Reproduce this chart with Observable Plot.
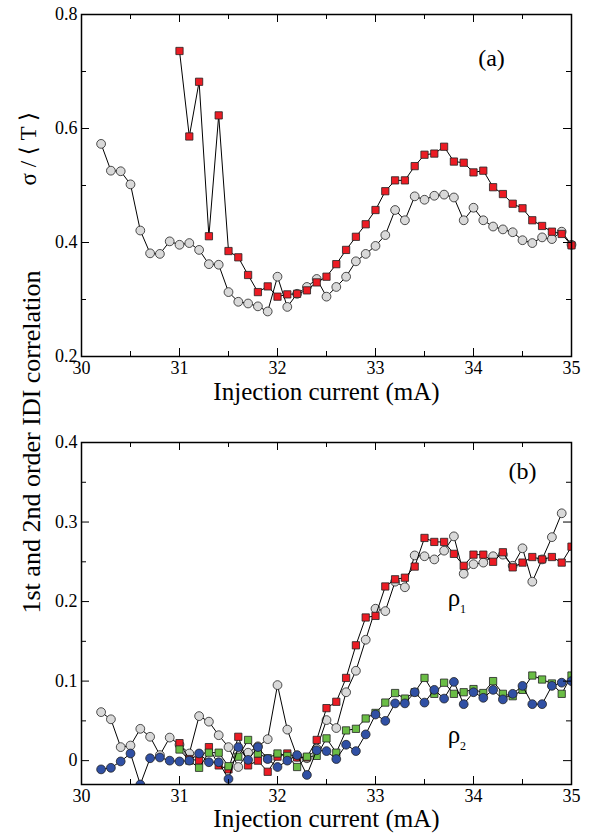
<!DOCTYPE html>
<html>
<head>
<meta charset="utf-8">
<script src="https://cdn.jsdelivr.net/npm/d3@7"></script>
<script src="https://cdn.jsdelivr.net/npm/@observablehq/plot@0.6"></script>
<style>
  html, body { margin: 0; padding: 0; background: white; }
  #chart { width: 590px; height: 834px; }
  #chart svg { display: block; }
</style>
</head>
<body>
<div id="chart"></div>
<script>
// ---------- data ----------
const xTicks = [30, 31, 32, 33, 34, 35];
const xMinorTicks = [30.5, 31.5, 32.5, 33.5, 34.5];
const yTicksA = [0.2, 0.4, 0.6, 0.8];
const yMinorA = [0.3, 0.5, 0.7];
const yTicksB = [0, 0.1, 0.2, 0.3, 0.4];
const yMinorB = [0.05, 0.15, 0.25, 0.35];

const current302to350 = [30.2,30.3,30.4,30.5,30.6,30.7,30.8,30.9,31.0,31.1,31.2,31.3,31.4,31.5,31.6,31.7,31.8,31.9,32.0,32.1,32.2,32.3,32.4,32.5,32.6,32.7,32.8,32.9,33.0,33.1,33.2,33.3,33.4,33.5,33.6,33.7,33.8,33.9,34.0,34.1,34.2,34.3,34.4,34.5,34.6,34.7,34.8,34.9,35.0];
const current310to350 = [31.0,31.1,31.2,31.3,31.4,31.5,31.6,31.7,31.8,31.9,32.0,32.1,32.2,32.3,32.4,32.5,32.6,32.7,32.8,32.9,33.0,33.1,33.2,33.3,33.4,33.5,33.6,33.7,33.8,33.9,34.0,34.1,34.2,34.3,34.4,34.5,34.6,34.7,34.8,34.9,35.0];
const current302to349 = [30.2,30.3,30.4,30.5,30.6,30.7,30.8,30.9,31.0,31.1,31.2,31.3,31.4,31.5,31.6,31.7,31.8,31.9,32.0,32.1,32.2,32.3,32.4,32.5,32.6,32.7,32.8,32.9,33.0,33.1,33.2,33.3,33.4,33.5,33.6,33.7,33.8,33.9,34.0,34.1,34.2,34.3,34.4,34.5,34.6,34.7,34.8,34.9];

// panel (a): sigma / <T>
const sigmaGray = [0.573,0.526,0.525,0.502,0.421,0.381,0.380,0.402,0.396,0.399,0.387,0.362,0.361,0.313,0.296,0.293,0.288,0.279,0.340,0.287,0.310,0.322,0.336,0.305,0.322,0.340,0.367,0.380,0.394,0.413,0.457,0.439,0.481,0.475,0.482,0.484,0.479,0.439,0.461,0.439,0.428,0.423,0.418,0.404,0.399,0.409,0.406,0.419,0.396];
const sigmaRed = [0.736,0.586,0.682,0.411,0.623,0.385,0.374,0.343,0.313,0.323,0.305,0.309,0.310,0.316,0.330,0.340,0.362,0.387,0.410,0.432,0.457,0.490,0.509,0.509,0.534,0.554,0.556,0.568,0.542,0.540,0.523,0.526,0.497,0.485,0.468,0.460,0.439,0.429,0.419,0.415,0.395];

// panel (b): IDI correlations
const rho1Gray = [0.061,0.052,0.017,0.019,0.040,0.030,0.007,0.029,0.020,0.009,0.056,0.049,0.032,0.017,-0.008,0.010,0.018,0.027,0.095,0.039,0.005,0.003,0.015,0.051,0.041,0.086,0.113,0.152,0.191,0.188,0.225,0.218,0.258,0.257,0.253,0.264,0.282,0.235,0.247,0.249,0.257,0.259,0.245,0.267,0.225,0.253,0.281,0.311];
const rho1Red = [0.022,0.002,0.000,0.017,-0.006,-0.011,0.030,-0.006,0.000,-0.014,0.005,0.009,0.004,0.004,0.026,0.066,0.074,0.104,0.145,0.180,0.182,0.219,0.228,0.230,0.244,0.280,0.275,0.275,0.260,0.245,0.259,0.259,0.250,0.262,0.243,0.249,0.256,0.253,0.256,0.249,0.269];
const rho2Green = [0.014,0.000,-0.009,0.010,0.010,-0.007,0.005,0.026,0.009,0.003,0.009,0.006,-0.008,0.005,0.006,0.028,0.010,0.038,0.040,0.053,0.060,0.073,0.085,0.078,0.086,0.104,0.084,0.098,0.084,0.086,0.090,0.085,0.100,0.084,0.081,0.089,0.107,0.102,0.097,0.084,0.107];
const rho2Blue = [-0.011,-0.009,-0.001,0.009,-0.030,0.003,0.004,0.000,-0.001,0.000,0.009,-0.002,-0.002,-0.023,0.017,0.001,0.017,0.002,-0.008,0.000,0.007,-0.018,0.013,0.012,0.002,0.020,0.012,0.033,0.058,0.050,0.072,0.072,0.086,0.073,0.089,0.078,0.099,0.071,0.086,0.079,0.089,0.077,0.084,0.094,0.071,0.071,0.094,0.098,0.100];

const rhoLabels = ["ρ", "ρ"];
const rhoSubs = ["1", "2"];
const rhoX = [33.8, 33.8];
const rhoY = [0.194, 0.022];

const xLabel = "Injection current (mA)";
const yLabelA = "σ / ⟨ T ⟩";
const yLabelB = "1st and 2nd order IDI correlation";

// ---------- styles ----------
const RED = "#ec1c24", GRAY = "#d9d9d9", GREEN = "#6abd45", BLUE = "#3050a4";
const FONT = "'Liberation Serif', 'Times New Roman', 'DejaVu Serif', serif";
const W = 590;

const toRows = (xs, ys) => xs.map((x, i) => ({x, y: ys[i]}));

function tickMarks(innerW, innerH, yMajor, yMinor) {
  const M = 8, m = 5;
  return [
    Plot.ruleX(xTicks, {x: d => d, insetTop: innerH - M, stroke: "black"}),
    Plot.ruleX(xTicks, {x: d => d, insetBottom: innerH - M, stroke: "black"}),
    Plot.ruleX(xMinorTicks, {x: d => d, insetTop: innerH - m, stroke: "black"}),
    Plot.ruleX(xMinorTicks, {x: d => d, insetBottom: innerH - m, stroke: "black"}),
    Plot.ruleY(yMajor, {y: d => d, insetRight: innerW - M, stroke: "black"}),
    Plot.ruleY(yMajor, {y: d => d, insetLeft: innerW - M, stroke: "black"}),
    Plot.ruleY(yMinor, {y: d => d, insetRight: innerW - m, stroke: "black"}),
    Plot.ruleY(yMinor, {y: d => d, insetLeft: innerW - m, stroke: "black"})
  ];
}

function series(rows, symbol, fill, clip) {
  return [
    Plot.line(rows, {x: "x", y: "y", stroke: "black", strokeWidth: 1, clip}),
    Plot.dot(rows, {x: "x", y: "y", symbol, r: symbol === "square" ? 4.1 : 4.4, fill, stroke: "#222", strokeWidth: 0.8, clip})
  ];
}

// ---------- panel (a) ----------
{
  const height = 410, mt = 14, mb = 54, ml = 81, mr = 19;
  const innerW = W - ml - mr, innerH = height - mt - mb;
  const plotA = Plot.plot({
    width: W, height,
    marginTop: mt, marginBottom: mb, marginLeft: ml, marginRight: mr,
    style: {fontFamily: FONT, fontSize: "18px", color: "black", background: "white", overflow: "visible"},
    x: {domain: [30, 35]},
    y: {domain: [0.2, 0.8]},
    marks: [
      ...series(toRows(current302to350, sigmaGray), "circle", GRAY, false),
      ...series(toRows(current310to350, sigmaRed), "square", RED, false),
      ...tickMarks(innerW, innerH, yTicksA, yMinorA),
      Plot.frame({stroke: "black", strokeWidth: 1.5}),
      Plot.axisX({ticks: xTicks, tickSize: 0, tickPadding: 5, label: null, tickFormat: d => String(d), fontSize: 18}),
      Plot.axisY({ticks: yTicksA, tickSize: 0, tickPadding: 4, label: null, tickFormat: d => String(d), fontSize: 18}),
      Plot.text([xLabel], {text: d => d, frameAnchor: "bottom", lineAnchor: "bottom", dy: 43, fontSize: 25}),
      Plot.text([yLabelA], {text: d => d, frameAnchor: "left", rotate: -90, dx: -53, fontSize: 23}),
      Plot.text(["(a)"], {text: d => d, frameAnchor: "top-right", textAnchor: "middle", lineAnchor: "middle", dx: -80, dy: 44, fontSize: 24})
    ]
  });
  document.getElementById("chart").append(plotA);
}

// ---------- panel (b) ----------
{
  const height = 424, mt = 32, mb = 50, ml = 81, mr = 19;
  const innerW = W - ml - mr, innerH = height - mt - mb;
  const plotB = Plot.plot({
    width: W, height,
    marginTop: mt, marginBottom: mb, marginLeft: ml, marginRight: mr,
    style: {fontFamily: FONT, fontSize: "18px", color: "black", background: "white", overflow: "visible"},
    x: {domain: [30, 35]},
    y: {domain: [-0.03, 0.4]},
    marks: [
      ...series(toRows(current302to349, rho1Gray), "circle", GRAY, true),
      ...series(toRows(current310to350, rho1Red), "square", RED, true),
      ...series(toRows(current310to350, rho2Green), "square", GREEN, true),
      ...series(toRows(current302to350, rho2Blue), "circle", BLUE, true),
      ...tickMarks(innerW, innerH, yTicksB, yMinorB),
      Plot.frame({stroke: "black", strokeWidth: 1.5}),
      Plot.axisX({ticks: xTicks, tickSize: 0, tickPadding: 5, label: null, tickFormat: d => String(d), fontSize: 18}),
      Plot.axisY({ticks: yTicksB, tickSize: 0, tickPadding: 4, label: null, tickFormat: d => String(d), fontSize: 18}),
      Plot.text([xLabel], {text: d => d, frameAnchor: "bottom", lineAnchor: "bottom", dy: 42, fontSize: 25}),
      Plot.text([yLabelB], {text: d => d, frameAnchor: "left", rotate: -90, dx: -50, fontSize: 26}),
      Plot.text(["(b)"], {text: d => d, frameAnchor: "top-right", textAnchor: "middle", lineAnchor: "middle", dx: -49, dy: 29, fontSize: 24}),
      Plot.text(rhoLabels, {x: (d, i) => rhoX[i], y: (d, i) => rhoY[i], text: d => d, lineAnchor: "bottom", fontSize: 25}),
      Plot.text(rhoSubs, {x: (d, i) => rhoX[i], y: (d, i) => rhoY[i], text: d => d, lineAnchor: "bottom", textAnchor: "start", dx: 6, dy: 7, fontSize: 12})
    ]
  });
  document.getElementById("chart").append(plotB);
}
</script>
</body>
</html>
